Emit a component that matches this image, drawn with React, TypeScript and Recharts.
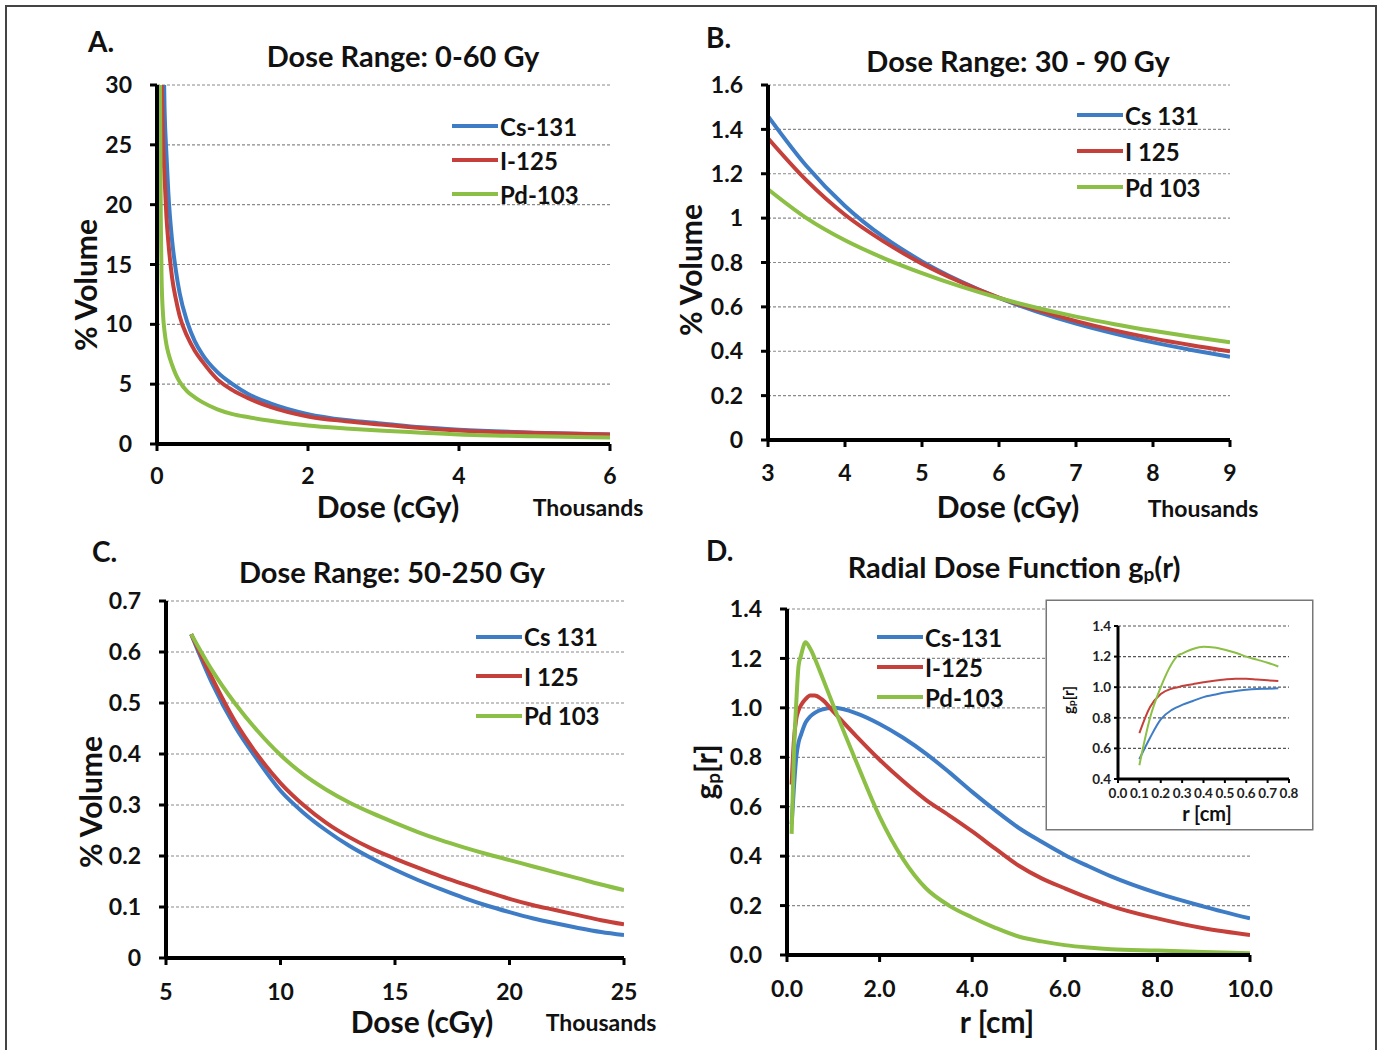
import { LineChart, Line, XAxis, YAxis, CartesianGrid, Legend } from "recharts";

// colours of the three isotopes
const BLUE = "#3f7cc6";
const RED = "#c5403b";
const GREEN = "#8cbf45";
const FONT = "Lato, 'Open Sans', sans-serif";

// ---- A. Dose Range 0-60 Gy (dose in thousands of cGy) ----
const aDose = [0.03, 0.04, 0.05, 0.06, 0.08, 0.1, 0.125, 0.15, 0.2, 0.25, 0.3, 0.4, 0.5, 0.6, 0.8, 1.0, 1.2, 1.5, 2, 2.5, 3, 3.5, 4, 5, 6];
const aCs = [90, 70, 56, 46, 35, 28, 24.2, 21.0, 17.0, 14.5, 12.6, 10.2, 8.6, 7.5, 6.0, 5.0, 4.2, 3.4, 2.5, 2.0, 1.7, 1.4, 1.2, 0.95, 0.8];
const aI = [50, 40, 35, 31, 25.3, 22.3, 19.0, 16.9, 13.9, 12.1, 10.7, 9.0, 7.8, 6.9, 5.4, 4.5, 3.85, 3.1, 2.3, 1.9, 1.6, 1.33, 1.12, 0.92, 0.8];
const aPd = [40, 30, 19, 14, 10.8, 9.4, 8.3, 7.6, 6.6, 5.8, 5.2, 4.4, 3.9, 3.5, 2.9, 2.5, 2.25, 1.95, 1.55, 1.3, 1.1, 0.95, 0.8, 0.65, 0.55];
const aXTicks = [0, 2, 4, 6];
const aYTicks = [0, 5, 10, 15, 20, 25, 30];

// ---- B. Dose Range 30-90 Gy ----
const bDose = [3, 3.5, 4, 4.5, 5, 5.5, 6, 6.5, 7, 7.5, 8, 8.5, 9];
const bCs = [1.46, 1.235, 1.055, 0.915, 0.805, 0.715, 0.64, 0.578, 0.525, 0.48, 0.44, 0.406, 0.375];
const bI = [1.36, 1.17, 1.015, 0.895, 0.795, 0.712, 0.642, 0.585, 0.536, 0.494, 0.458, 0.427, 0.4];
const bPd = [1.13, 1.0, 0.9, 0.82, 0.752, 0.692, 0.64, 0.595, 0.556, 0.522, 0.492, 0.465, 0.44];
const bXTicks = [3, 4, 5, 6, 7, 8, 9];
const bYTicks = [0, 0.2, 0.4, 0.6, 0.8, 1, 1.2, 1.4, 1.6];

// ---- C. Dose Range 50-250 Gy ----
const cDose = [6.1, 7, 8, 9, 10, 11, 12, 13, 14, 15, 16, 17, 18, 19, 20, 21, 22, 23, 24, 25];
const cCs = [0.635, 0.54, 0.455, 0.388, 0.328, 0.285, 0.25, 0.22, 0.195, 0.173, 0.153, 0.135, 0.118, 0.103, 0.09, 0.078, 0.068, 0.059, 0.051, 0.045];
const cI = [0.635, 0.55, 0.465, 0.398, 0.343, 0.3, 0.265, 0.237, 0.214, 0.195, 0.177, 0.16, 0.145, 0.13, 0.116, 0.104, 0.094, 0.084, 0.074, 0.066];
const cPd = [0.635, 0.565, 0.5, 0.445, 0.398, 0.36, 0.33, 0.305, 0.284, 0.265, 0.247, 0.231, 0.217, 0.204, 0.192, 0.18, 0.168, 0.156, 0.144, 0.133];
const cXTicks = [5, 10, 15, 20, 25];
const cYTicks = [0, 0.1, 0.2, 0.3, 0.4, 0.5, 0.6, 0.7];

// ---- D. Radial dose function ----
const dR = [0.1, 0.15, 0.2, 0.25, 0.3, 0.4, 0.5, 0.6, 0.75, 1.0, 1.5, 2, 2.5, 3, 3.5, 4, 4.5, 5, 5.5, 6, 6.5, 7, 8, 9, 10];
const dCs = [0.53, 0.68, 0.8, 0.86, 0.89, 0.94, 0.965, 0.98, 0.993, 1.0, 0.978, 0.935, 0.88, 0.815, 0.74, 0.66, 0.585, 0.515, 0.458, 0.405, 0.36, 0.318, 0.25, 0.196, 0.148];
const dI = [0.69, 0.87, 0.955, 0.99, 1.01, 1.035, 1.05, 1.05, 1.035, 0.985, 0.885, 0.79, 0.705, 0.628, 0.565, 0.5, 0.43, 0.362, 0.31, 0.27, 0.232, 0.198, 0.148, 0.108, 0.081];
const dPd = [0.49, 0.82, 1.02, 1.17, 1.21, 1.265, 1.24, 1.2, 1.13, 1.01, 0.78, 0.56, 0.39, 0.27, 0.2, 0.152, 0.11, 0.075, 0.055, 0.04, 0.03, 0.023, 0.018, 0.012, 0.007];
const dXTicks = [0, 2, 4, 6, 8, 10];
const dYTicks = [0, 0.2, 0.4, 0.6, 0.8, 1.0, 1.2, 1.4];

// ---- D inset, first 0.75 cm ----
const insetR = [0.1, 0.15, 0.2, 0.25, 0.28, 0.3, 0.35, 0.4, 0.45, 0.5, 0.55, 0.6, 0.65, 0.7, 0.75];
const insetCs = [0.53, 0.67, 0.79, 0.85, 0.872, 0.885, 0.91, 0.935, 0.95, 0.965, 0.975, 0.983, 0.988, 0.99, 0.993];
const insetI = [0.7, 0.87, 0.955, 0.99, 1.0, 1.008, 1.02, 1.032, 1.042, 1.05, 1.055, 1.055, 1.05, 1.045, 1.04];
const insetPd = [0.49, 0.8, 1.0, 1.15, 1.207, 1.22, 1.25, 1.265, 1.26, 1.245, 1.225, 1.2, 1.18, 1.16, 1.135];
const insetXTicks = [0, 0.1, 0.2, 0.3, 0.4, 0.5, 0.6, 0.7, 0.8];
const insetYTicks = [0.4, 0.6, 0.8, 1.0, 1.2, 1.4];

const rows = (xs: number[], cs: number[], i: number[], pd: number[]) =>
  xs.map((x, k) => ({ x, cs: cs[k], i: i[k], pd: pd[k] }));

type Box = { left: number; top: number; width: number; height: number };
type Plot = { l: number; t: number; r: number; b: number };

function marginFor(box: Box, plot: Plot, yw: number, xh: number) {
  return {
    left: plot.l - box.left - yw,
    top: plot.t - box.top,
    right: box.left + box.width - plot.r,
    bottom: box.top + box.height - plot.b - xh,
  };
}

function SeriesKey({ payload, rowH }: any) {
  return (
    <div style={{ fontFamily: FONT }}>
      {(payload || []).map((p: any) => (
        <div key={p.value} style={{ display: "flex", alignItems: "center", height: rowH }}>
          <span style={{ display: "inline-block", width: 46, height: 4, background: p.color }} />
          <span style={{ fontSize: 24, fontWeight: 700, marginLeft: 2, color: "#111" }}>{p.value}</span>
        </div>
      ))}
    </div>
  );
}

type PanelProps = {
  box: Box;
  plot: Plot;
  data: any[];
  xDomain: [number, number];
  yDomain: [number, number];
  xTicks: number[];
  yTicks: number[];
  names: string[];
  legendPos: { left: number; top: number };
  rowH: number;
  xGap: number;
  fmt?: (v: number) => string;
  clip?: boolean;
};

const tickStyle = { fontFamily: FONT, fontWeight: 700, fontSize: 23, fill: "#111" };

function Panel(p: PanelProps) {
  const yw = 70;
  const xh = 60;
  return (
    <div style={{ position: "absolute", left: p.box.left, top: p.box.top }}>
      <LineChart width={p.box.width} height={p.box.height} data={p.data} margin={marginFor(p.box, p.plot, yw, xh)}>
        <CartesianGrid vertical={false} stroke="#8a8a8a" strokeDasharray="3 2" strokeWidth={1.2} />
        <XAxis
          type="number"
          dataKey="x"
          domain={p.xDomain}
          ticks={p.xTicks}
          height={xh}
          allowDataOverflow
          axisLine={{ stroke: "#000", strokeWidth: 4 }}
          tickLine={{ stroke: "#000", strokeWidth: 3 }}
          tickSize={7}
          tickMargin={p.xGap}
          tick={tickStyle}
          tickFormatter={p.fmt}
          interval={0}
        />
        <YAxis
          type="number"
          domain={p.yDomain}
          ticks={p.yTicks}
          width={yw}
          allowDataOverflow={p.clip}
          axisLine={{ stroke: "#000", strokeWidth: 4 }}
          tickLine={{ stroke: "#000", strokeWidth: 3 }}
          tickSize={7}
          tickMargin={18}
          tick={tickStyle}
          tickFormatter={p.fmt}
          interval={0}
        />
        <Legend
          layout="vertical"
          align="center"
          verticalAlign="middle"
          wrapperStyle={{ left: p.legendPos.left, top: p.legendPos.top, width: "auto" }}
          content={(props: any) => <SeriesKey payload={props.payload} rowH={p.rowH} />}
        />
        <Line type="monotone" dataKey="cs" name={p.names[0]} stroke={BLUE} strokeWidth={4} dot={false} isAnimationActive={false} />
        <Line type="monotone" dataKey="i" name={p.names[1]} stroke={RED} strokeWidth={4} dot={false} isAnimationActive={false} />
        <Line type="monotone" dataKey="pd" name={p.names[2]} stroke={GREEN} strokeWidth={4} dot={false} isAnimationActive={false} />
      </LineChart>
    </div>
  );
}

function Inset() {
  const box = { left: 1047, top: 601, width: 265, height: 228 };
  const plot = { l: 1118, t: 626, r: 1289, b: 779 };
  const yw = 35;
  const xh = 25;
  const small = { fontFamily: FONT, fontWeight: 700, fontSize: 13.5, fill: "#222" };
  return (
    <div
      style={{
        position: "absolute",
        left: box.left,
        top: box.top,
        width: box.width,
        height: box.height,
        background: "#fff",
        boxShadow: "0 0 0 1.5px #777",
      }}
    >
      <LineChart width={box.width} height={box.height} data={rows(insetR, insetCs, insetI, insetPd)} margin={marginFor(box, plot, yw, xh)}>
        <CartesianGrid vertical={false} stroke="#555" strokeDasharray="3 2" strokeWidth={1.2} />
        <XAxis
          type="number"
          dataKey="x"
          domain={[0, 0.8]}
          ticks={insetXTicks}
          height={xh}
          axisLine={{ stroke: "#000", strokeWidth: 3 }}
          tickLine={{ stroke: "#000", strokeWidth: 2 }}
          tickSize={4}
          tickMargin={5}
          tick={small}
          tickFormatter={(v: number) => v.toFixed(1)}
          interval={0}
        />
        <YAxis
          type="number"
          domain={[0.4, 1.4]}
          ticks={insetYTicks}
          width={yw}
          axisLine={{ stroke: "#000", strokeWidth: 3 }}
          tickLine={{ stroke: "#000", strokeWidth: 2 }}
          tickSize={4}
          tickMargin={3}
          tick={small}
          tickFormatter={(v: number) => v.toFixed(1)}
          interval={0}
        />
        <Line type="monotone" dataKey="cs" stroke={BLUE} strokeWidth={2} dot={false} isAnimationActive={false} />
        <Line type="monotone" dataKey="i" stroke={RED} strokeWidth={2} dot={false} isAnimationActive={false} />
        <Line type="monotone" dataKey="pd" stroke={GREEN} strokeWidth={2} dot={false} isAnimationActive={false} />
      </LineChart>
    </div>
  );
}

const bold = { fontFamily: FONT, fontWeight: 700, fill: "#111" } as const;

function Labels() {
  const rot = (x: number, y: number) => `rotate(-90 ${x} ${y})`;
  return (
    <svg width={1380} height={1050} style={{ position: "absolute", left: 0, top: 0, pointerEvents: "none" }}>
      <rect x={6} y={6} width={1370} height={1050} fill="none" stroke="#444" strokeWidth={2} />

      <text x={88} y={52} fontSize={28} {...bold}>A.</text>
      <text x={706} y={48} fontSize={28} {...bold}>B.</text>
      <text x={92} y={562} fontSize={28} {...bold}>C.</text>
      <text x={706} y={561} fontSize={28} {...bold}>D.</text>

      <text x={403} y={55} fontSize={29} textAnchor="middle" dominantBaseline="central" {...bold}>Dose Range: 0-60 Gy</text>
      <text x={1018} y={60} fontSize={29} textAnchor="middle" dominantBaseline="central" {...bold}>Dose Range: 30 - 90 Gy</text>
      <text x={392} y={571} fontSize={29} textAnchor="middle" dominantBaseline="central" {...bold}>Dose Range: 50-250 Gy</text>
      <text x={1014} y={566} fontSize={29} textAnchor="middle" dominantBaseline="central" {...bold}>
        Radial Dose Function g<tspan fontSize={19} dy={7}>p</tspan><tspan dy={-7}>(r)</tspan>
      </text>

      <text x={85} y={285} fontSize={30} textAnchor="middle" dominantBaseline="central" transform={rot(85, 285)} {...bold}>% Volume</text>
      <text x={690} y={270} fontSize={30} textAnchor="middle" dominantBaseline="central" transform={rot(690, 270)} {...bold}>% Volume</text>
      <text x={90} y={802} fontSize={30} textAnchor="middle" dominantBaseline="central" transform={rot(90, 802)} {...bold}>% Volume</text>
      <text x={705} y={772} fontSize={30} textAnchor="middle" dominantBaseline="central" transform={rot(705, 772)} {...bold}>
        g<tspan fontSize={19} dy={7}>p</tspan><tspan dy={-7}>[r]</tspan>
      </text>

      <text x={388} y={506} fontSize={30} textAnchor="middle" dominantBaseline="central" {...bold}>Dose (cGy)</text>
      <text x={1008} y={506} fontSize={30} textAnchor="middle" dominantBaseline="central" {...bold}>Dose (cGy)</text>
      <text x={422} y={1021} fontSize={30} textAnchor="middle" dominantBaseline="central" {...bold}>Dose (cGy)</text>
      <text x={997} y={1021} fontSize={30} textAnchor="middle" dominantBaseline="central" {...bold}>r [cm]</text>

      <text x={588} y={507} fontSize={23} textAnchor="middle" dominantBaseline="central" {...bold}>Thousands</text>
      <text x={1203} y={508} fontSize={23} textAnchor="middle" dominantBaseline="central" {...bold}>Thousands</text>
      <text x={601} y={1022} fontSize={23} textAnchor="middle" dominantBaseline="central" {...bold}>Thousands</text>

      <text x={1207} y={813} fontSize={20} textAnchor="middle" dominantBaseline="central" {...bold}>r [cm]</text>
      <text x={1068} y={700} fontSize={15} textAnchor="middle" dominantBaseline="central" transform={rot(1068, 700)} {...bold}>
        g<tspan fontSize={10} dy={3}>p</tspan><tspan dy={-3}>[r]</tspan>
      </text>
    </svg>
  );
}

export default function App() {
  const oneDp = (v: number) => v.toFixed(1);
  return (
    <div style={{ position: "absolute", left: 0, top: 0, width: 1380, height: 1050, background: "#fff", overflow: "hidden" }}>
      <Panel
        box={{ left: 60, top: 20, width: 620, height: 510 }}
        plot={{ l: 157, t: 85, r: 610, b: 444 }}
        data={rows(aDose, aCs, aI, aPd)}
        xDomain={[0, 6]}
        yDomain={[0, 30]}
        xTicks={aXTicks}
        yTicks={aYTicks}
        names={["Cs-131", "I-125", "Pd-103"]}
        legendPos={{ left: 392, top: 89 }}
        rowH={34}
        xGap={17}
        clip
      />
      <Panel
        box={{ left: 670, top: 20, width: 620, height: 510 }}
        plot={{ l: 768, t: 85, r: 1230, b: 440 }}
        data={rows(bDose, bCs, bI, bPd)}
        xDomain={[3, 9]}
        yDomain={[0, 1.6]}
        xTicks={bXTicks}
        yTicks={bYTicks}
        names={["Cs 131", "I 125", "Pd 103"]}
        legendPos={{ left: 407, top: 77 }}
        rowH={36}
        xGap={18}
      />
      <Panel
        box={{ left: 60, top: 540, width: 620, height: 500 }}
        plot={{ l: 166, t: 601, r: 624, b: 958 }}
        data={rows(cDose, cCs, cI, cPd)}
        xDomain={[5, 25]}
        yDomain={[0, 0.7]}
        xTicks={cXTicks}
        yTicks={cYTicks}
        names={["Cs 131", "I 125", "Pd 103"]}
        legendPos={{ left: 416, top: 77 }}
        rowH={39.5}
        xGap={19}
      />
      <Panel
        box={{ left: 690, top: 540, width: 620, height: 500 }}
        plot={{ l: 787, t: 609, r: 1250, b: 955 }}
        data={rows(dR, dCs, dI, dPd)}
        xDomain={[0, 10]}
        yDomain={[0, 1.4]}
        xTicks={dXTicks}
        yTicks={dYTicks}
        names={["Cs-131", "I-125", "Pd-103"]}
        legendPos={{ left: 187, top: 82 }}
        rowH={30}
        xGap={19}
        fmt={oneDp}
      />
      <Inset />
      <Labels />
    </div>
  );
}
